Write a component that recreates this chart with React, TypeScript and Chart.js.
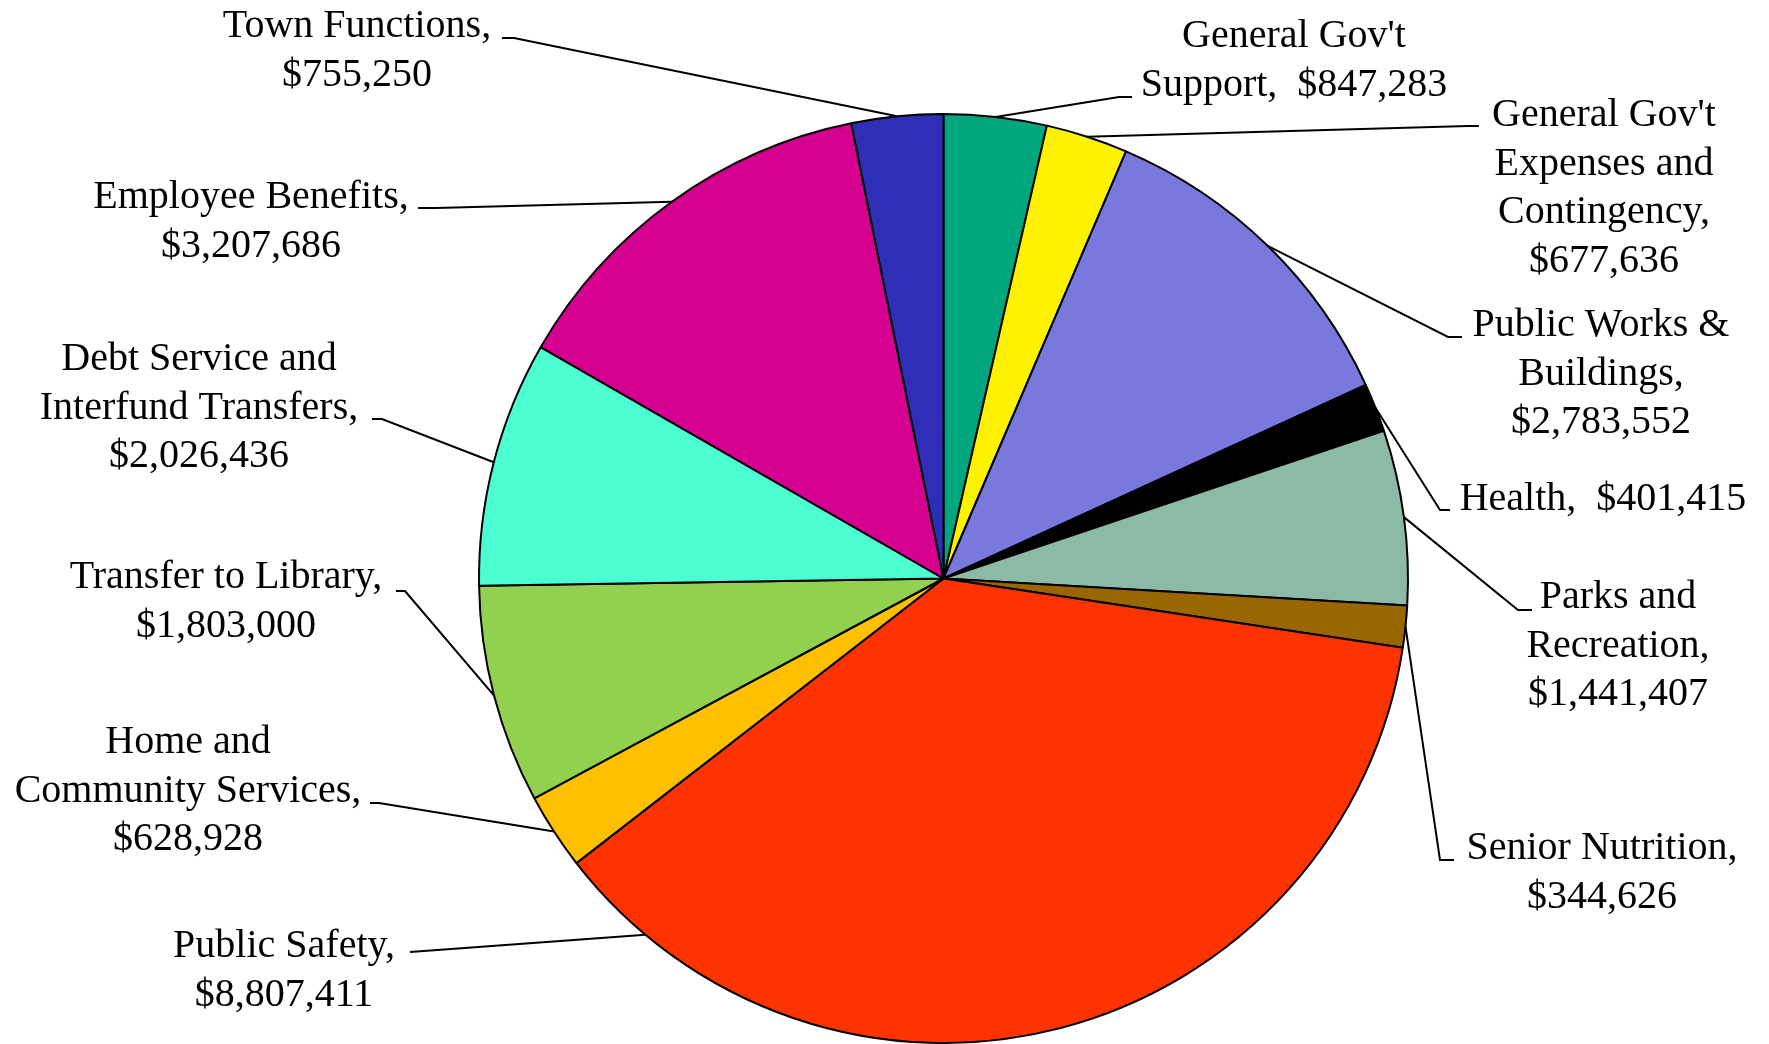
import React, { useEffect, useRef } from "react";
import { Chart, registerables } from "chart.js";

Chart.register(...registerables);

// ---- Data ----
const categories = [
  "General Gov't Support",
  "General Gov't Expenses and Contingency",
  "Public Works & Buildings",
  "Health",
  "Parks and Recreation",
  "Senior Nutrition",
  "Public Safety",
  "Home and Community Services",
  "Transfer to Library",
  "Debt Service and Interfund Transfers",
  "Employee Benefits",
  "Town Functions",
];

const amounts = [
  847283, 677636, 2783552, 401415, 1441407, 344626, 8807411, 628928, 1803000,
  2026436, 3207686, 755250,
];

const sliceColors = [
  "#00A67E",
  "#FFF200",
  "#7979DD",
  "#000000",
  "#8DBAA6",
  "#996600",
  "#FF3300",
  "#FFC000",
  "#92D050",
  "#4BFFD2",
  "#D50090",
  "#2E2EB8",
];

// label text templates ({v} = formatted amount)
const labelTemplates = [
  "General Gov't\nSupport,  {v}",
  "General Gov't\nExpenses and\nContingency,\n{v}",
  "Public Works &\nBuildings,\n{v}",
  "Health,  {v}",
  "Parks and\nRecreation,\n{v}",
  "Senior Nutrition,\n{v}",
  "Public Safety,\n{v}",
  "Home and\nCommunity Services,\n{v}",
  "Transfer to Library,\n{v}",
  "Debt Service and\nInterfund Transfers,\n{v}",
  "Employee Benefits,\n{v}",
  "Town Functions,\n{v}",
];

// ---- Label layout (centre x, first baseline y, elbow, tick end, attach fraction) ----
const labelCx = [1294, 1604, 1601, 1603, 1618, 1602, 284, 188, 226, 199, 251, 357];
const labelBaseY = [47, 126, 336, 510, 608, 859, 957, 753, 588, 370, 208, 37];
const elbowX = [1119, 1468, 1448, 1440, 1518, 1440, 410, 379, 405, 382, 436, 514];
const elbowY = [97, 126, 337, 510, 610, 860, 952, 803, 591, 419, 208, 38];
const tickX = [1132, 1479, 1462, 1450, 1532, 1454, 410, 370, 396, 372, 418, 502];
const attachFrac = [0.5, 0.5, 0.5, 0.5, 0.5, 0.5, 0.908, 0.5, 0.5, 0.5, 0.5, 0.5];
const LINE_H = 48.7;
const FONT = "40px 'Liberation Serif', 'DejaVu Serif', serif";

const fmt = (v: number) => "$" + v.toLocaleString("en-US");

const labelPlugin = {
  id: "pieLabels",
  afterDatasetsDraw(chart: any) {
    const ctx = chart.ctx as CanvasRenderingContext2D;
    const meta = chart.getDatasetMeta(0);
    ctx.save();
    meta.data.forEach((arc: any, i: number) => {
      const { x, y, startAngle, endAngle, outerRadius } = arc.getProps(
        ["x", "y", "startAngle", "endAngle", "outerRadius"],
        true
      );
      const a = startAngle + (endAngle - startAngle) * attachFrac[i];
      const ax = x + outerRadius * Math.cos(a);
      const ay = y + outerRadius * Math.sin(a);
      ctx.beginPath();
      ctx.strokeStyle = "#000";
      ctx.lineWidth = 2;
      ctx.moveTo(ax, ay);
      ctx.lineTo(elbowX[i], elbowY[i]);
      ctx.lineTo(tickX[i], elbowY[i]);
      ctx.stroke();

      const lines = labelTemplates[i].replace("{v}", fmt(amounts[i])).split("\n");
      ctx.font = FONT;
      ctx.fillStyle = "#000";
      ctx.textAlign = "center";
      ctx.textBaseline = "alphabetic";
      lines.forEach((ln, k) => {
        ctx.fillText(ln, labelCx[i], labelBaseY[i] + k * LINE_H);
      });
    });
    ctx.restore();
  },
};

export default function App() {
  const ref = useRef<HTMLCanvasElement | null>(null);
  useEffect(() => {
    document.body.style.margin = "0";
    document.body.style.background = "#fff";
    const canvas = ref.current!;
    const chart = new Chart(canvas, {
      type: "pie",
      data: {
        labels: categories,
        datasets: [
          {
            data: amounts,
            backgroundColor: sliceColors,
            borderColor: "#000",
            borderWidth: 2,
          },
        ],
      },
      options: {
        responsive: false,
        animation: false,
        devicePixelRatio: 1,
        layout: { padding: { top: 113, bottom: 0, left: 478, right: 360 } },
        plugins: {
          legend: { display: false },
          tooltip: { enabled: false },
          title: { display: false },
        },
      },
      plugins: [labelPlugin],
    });
    return () => chart.destroy();
  }, []);
  return (
    <div style={{ position: "absolute", left: 0, top: 0, width: 1769, height: 1044, background: "#fff" }}>
      <canvas ref={ref} width={1769} height={1044} style={{ display: "block" }} />
    </div>
  );
}
